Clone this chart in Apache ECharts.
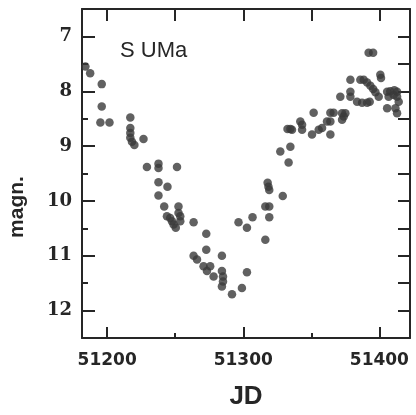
<!DOCTYPE html>
<html>
<head>
<meta charset="utf-8">
<script src="https://cdn.jsdelivr.net/npm/echarts@6/dist/echarts.min.js"></script>
<style>
  html, body { margin: 0; padding: 0; background: #fff; }
  #chart { width: 416px; height: 415px; }
</style>
</head>
<body>
<div id="chart"></div>
<script>
// S UMa light curve: [JD, magnitude]
var jdMin = 51181.5, jdMax = 51422.5;
var magMin = 6.5, magMax = 12.5;
var jdLabelStep = 100;   // labelled ticks every 100 days
var jdMinorStep = 50;    // unlabelled ticks in between
var magLabelStep = 1;
var magMinorStep = 0.5;

var points = [
  [51184, 7.55], [51187.5, 7.67], [51196, 7.87], [51196, 8.28], [51195, 8.57], [51201.7, 8.57],
  [51217, 8.48], [51217, 8.67], [51217, 8.76], [51217, 8.85], [51218.2, 8.92], [51220, 8.98], [51226.7, 8.87],
  [51229.2, 9.38], [51237.7, 9.32], [51237.7, 9.40], [51251.3, 9.38],
  [51237.7, 9.66], [51244.3, 9.74], [51237.7, 9.90], [51241.9, 10.10], [51252.4, 10.10],
  [51252.4, 10.22], [51253.7, 10.28], [51253.7, 10.37],
  [51243.9, 10.28], [51246.3, 10.31], [51247.6, 10.37], [51248.8, 10.43], [51250.4, 10.49],
  [51263.5, 10.39], [51272.8, 10.60], [51272.8, 10.89], [51263.5, 11.00], [51266, 11.07],
  [51270.8, 11.19], [51275.7, 11.19], [51273.3, 11.28], [51278.2, 11.38], [51284.3, 11.00],
  [51284.3, 11.28], [51285.1, 11.38], [51285.1, 11.47], [51284.3, 11.56], [51291.7, 11.70],
  [51299, 11.59], [51302.7, 11.30],
  [51296.5, 10.39], [51302.7, 10.49], [51306.8, 10.30], [51316.2, 10.10], [51319.1, 10.10],
  [51319.1, 10.30], [51316.2, 10.71], [51317.9, 9.67], [51318.5, 9.74], [51319.1, 9.80], [51329, 9.91],
  [51327.2, 9.10], [51333.3, 9.30], [51334.6, 9.01], [51332.5, 8.69], [51334.6, 8.69],
  [51335.8, 8.70], [51341.9, 8.55], [51343.2, 8.61], [51343.2, 8.70], [51350.5, 8.79],
  [51351.7, 8.39], [51355.4, 8.70], [51357.9, 8.67], [51361.5, 8.55], [51364, 8.55],
  [51364, 8.39], [51366.4, 8.39], [51364, 8.79], [51372.6, 8.40], [51373.8, 8.46], [51375, 8.40],
  [51372.6, 8.52], [51371.3, 8.10], [51378.7, 7.79], [51378.7, 8.01], [51378.7, 8.10],
  [51383.6, 8.19], [51387.3, 8.21], [51391, 8.21], [51392.9, 8.19], [51386, 7.79], [51388.5, 7.79],
  [51391, 7.84], [51393.4, 7.90], [51395.4, 7.96], [51397.1, 8.02], [51400.7, 7.70], [51401.2, 7.76],
  [51399.5, 8.10], [51392.1, 7.30], [51395.4, 7.30], [51405.7, 8.01], [51413, 8.01], [51406.8, 8.10],
  [51410.5, 8.07], [51413, 8.10], [51414.2, 8.19], [51405.7, 8.31], [51411.8, 8.31], [51413, 8.40],
  [51408, 8.00], [51411, 7.98]
];

var ink = '#262626';

// one axis per ring of ticks; the step is forced with minInterval/maxInterval
function ax(pos, min, max, step, len, extra, inv) {
  return Object.assign({
    type: 'value', position: pos, min: min, max: max, inverse: !!inv,
    minInterval: step, maxInterval: step,
    axisLine: { show: false },
    axisTick: { show: true, inside: true, length: len, lineStyle: { color: ink, width: 2 } },
    axisLabel: { show: false },
    splitLine: { show: false }
  }, extra || {});
}
var frame = { axisLine: { show: true, lineStyle: { color: ink, width: 2 } } };

var myChart = echarts.init(document.getElementById('chart'));
myChart.setOption({
  backgroundColor: '#fff',
  animation: false,
  title: {
    text: 'S UMa',
    left: 115,
    top: 35,
    textStyle: { fontFamily: 'Liberation Sans', fontSize: 22, fontWeight: 'normal', color: ink }
  },
  grid: { left: 82, right: 6, top: 9, bottom: 77 },
  xAxis: [
    ax('bottom', jdMin, jdMax, jdLabelStep, 11, {
      axisLine: frame.axisLine,
      name: 'JD', nameLocation: 'middle', nameGap: 46,
      nameTextStyle: { fontFamily: 'Liberation Sans', fontSize: 26, fontWeight: 'bold', color: ink },
      axisLabel: {
        show: true, margin: 14, fontFamily: 'DejaVu Sans', fontSize: 17, fontWeight: 'bold', color: ink,
        formatter: function (v) { return v % jdLabelStep === 0 ? String(v) : ''; }
      }
    }),
    ax('bottom', jdMin, jdMax, jdMinorStep, 5),
    ax('top', jdMin, jdMax, jdMinorStep, 12, frame)
  ],
  yAxis: [
    ax('left', magMin, magMax, magLabelStep, 13, {
      axisLine: frame.axisLine,
      axisLabel: {
        show: true, margin: 10, fontFamily: 'DejaVu Serif', fontSize: 18, fontWeight: 'bold', color: ink,
        formatter: function (v) { return v % magLabelStep === 0 ? String(v) : ''; }
      }
    }, true),
    ax('left', magMin, magMax, magMinorStep, 6, null, true),
    ax('right', magMin, magMax, magMinorStep, 12, frame, true)
  ],
  graphic: [
    {
      type: 'text', x: 17, y: 207, rotation: Math.PI / 2,
      style: {
        text: 'magn.', fontFamily: 'Liberation Sans', fontSize: 21, fontWeight: 'bold',
        fill: ink, align: 'center', verticalAlign: 'middle'
      }
    }
  ],
  series: [
    {
      type: 'scatter',
      xAxisIndex: 0,
      yAxisIndex: 0,
      symbolSize: 8.5,
      itemStyle: { color: '#3a3a3a' },
      data: points
    }
  ]
});
</script>
</body>
</html>
